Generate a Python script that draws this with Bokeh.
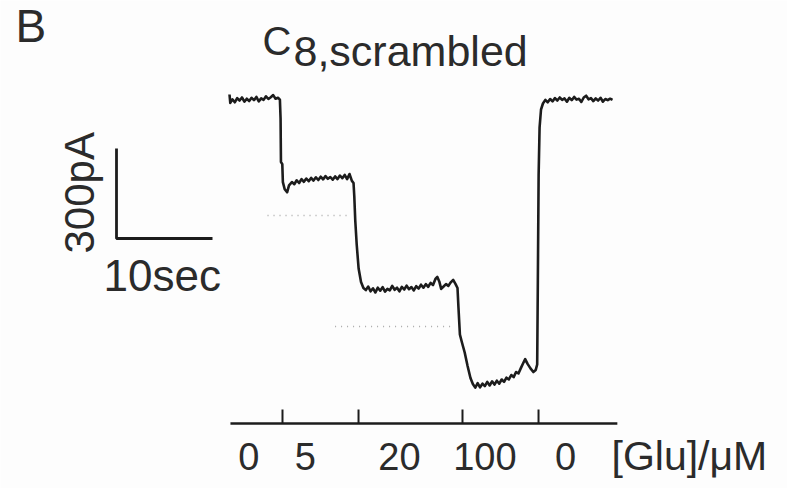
import math
from bokeh.plotting import figure
from bokeh.models import Range1d
from bokeh.core.properties import value
from bokeh.embed import file_html
from bokeh.resources import INLINE

# ---------------- data ----------------
# whole-cell current trace (time in s, current in pA)
trace_t = [0.00, 0.08, 0.30, 0.55, 0.80, 1.05, 1.30, 1.55, 1.80, 2.05, 2.30, 2.55, 2.80, 3.05,
           3.30, 3.55, 3.80, 4.05, 4.30, 4.55, 4.80, 5.05, 5.25,
           5.32, 5.36, 5.50, 5.56, 5.75, 6.00, 6.20, 6.50, 6.75, 7.00, 7.25, 7.50, 7.75, 8.00,
           8.25, 8.50, 8.75, 9.00, 9.25, 9.50, 9.75, 10.00, 10.25, 10.50, 10.75, 11.00, 11.25,
           11.50, 11.75, 12.00, 12.25, 12.50, 12.75, 12.92,
           13.00, 13.10, 13.25, 13.45, 13.70, 13.95, 14.20, 14.45, 14.70, 14.95, 15.20, 15.45,
           15.70, 15.95, 16.20, 16.45, 16.70, 16.95, 17.20, 17.45, 17.70, 17.95, 18.20, 18.45,
           18.70, 18.95, 19.20, 19.45, 19.70, 19.95, 20.20, 20.45, 20.70, 20.95, 21.20, 21.45,
           21.65, 21.85, 22.05, 22.30, 22.55, 22.80, 23.05, 23.30, 23.55, 23.75,
           23.85, 24.00, 24.20, 24.50, 24.80, 25.10, 25.35, 25.60, 25.85, 26.10, 26.35, 26.60,
           26.85, 27.10, 27.35, 27.60, 27.85, 28.10, 28.35, 28.60, 28.85, 29.10, 29.35, 29.60,
           29.85, 30.10, 30.35, 30.60, 30.80, 31.05, 31.35, 31.65, 31.90, 32.05,
           32.12, 32.20, 32.30, 32.45, 32.65, 32.90, 33.15, 33.40, 33.65, 33.90, 34.15, 34.40,
           34.65, 34.90, 35.15, 35.40, 35.65, 35.90, 36.15, 36.40, 36.65, 36.90, 37.15, 37.40,
           37.65, 37.90, 38.15, 38.40, 38.65, 38.90, 39.15, 39.40, 39.65, 39.90]
trace_pA = [20, -8, 4, -6, 8, 0, 10, -4, 6, -2, 9, 1, 12, -3,
            7, 2, 14, 5, 11, 18, 6, 9, 3,
            -60, -205, -212, -272, -296, -306, -283, -272, -279, -266, -275, -262, -271, -260,
            -269, -258, -267, -256, -265, -254, -263, -252, -261, -255, -264, -253, -262,
            -250, -259, -248, -262, -245, -268, -275,
            -320, -400, -480, -560, -605, -625, -632, -620, -636, -626, -640, -624,
            -634, -622, -637, -628, -633, -618, -631, -624, -636, -621, -630, -617,
            -629, -622, -633, -619, -627, -614, -624, -612, -621, -608, -615, -595,
            -588, -603, -628, -620, -612, -618, -606, -598, -612, -625,
            -690, -780, -805, -840, -885, -925, -945, -957, -942, -956, -944, -952,
            -938, -950, -936, -947, -934, -944, -930, -938, -924, -930, -915, -922,
            -905, -910, -892, -875, -862, -878, -893, -905, -898, -880,
            -600, -250, -90, -30, -10, 2, -6, 5, -3, 8, 0, 10,
            2, 7, -4, 9, 1, 12, 3, 6, -5, 10, 16, 4,
            8, -2, 7, 0, 9, -4, 5, 1, 6, 2]

# dotted reference levels (pA) and their extents (s)
ref_levels = [-383, -753]
ref_t0 = [3.96, 11.0]
ref_t1 = [12.6, 23.3]

# glutamate application protocol
conc_labels = ["0", "5", "20", "100", "0"]
switch_t = [5.52, 13.44, 24.27, 32.19]
protocol_t0, protocol_t1 = 0.1, 40.4
label_t = [2.0, 7.9, 17.7, 26.6, 35.0]
unit_label = "[Glu]/\u03bcM"

# scale bars
scale_pA = 300
scale_s = 10

# ---------------- layout (page calibration) ----------------
PX_PER_S = 9.6
PX_PER_PA = 0.3
X0_PX, Y0_PX = 229, 100          # page pixel where t=0, I=0 sits
W, H = 787, 488
BASE_SHIFT = 0.39                # renderer drops text this many em below anchor

def tx(px):
    return (px - X0_PX) / PX_PER_S

def iy(py):
    return -(py - Y0_PX) / PX_PER_PA

def base_y(py, fs):
    return iy(py - BASE_SHIFT * fs)

p = figure(width=W, height=H, output_backend="svg", toolbar_location=None,
           x_range=Range1d(tx(0), tx(W)), y_range=Range1d(iy(H), iy(0)),
           min_border=0)
p.axis.visible = False
p.grid.visible = False
p.outline_line_color = None
p.background_fill_color = "#fdfdfd"
p.border_fill_color = "#fdfdfd"

INK = "#1c1c1c"
TXT = "#2b2b2b"
FONT = value("Liberation Sans")

# dotted reference lines
for lev, a, b in zip(ref_levels, ref_t0, ref_t1):
    p.line([a, b], [lev, lev], line_color="#a8a8a8", line_width=1.5, line_dash="1 5")

# trace
p.line(trace_t, trace_pA, line_color=INK, line_width=2.6, line_join="round")

# protocol bar
bar_y = iy(423)
tick_h = 14 / PX_PER_PA
p.line([protocol_t0, protocol_t1], [bar_y, bar_y], line_color=INK, line_width=2.6)
p.segment(x0=switch_t, y0=[bar_y] * len(switch_t), x1=switch_t,
          y1=[bar_y + tick_h] * len(switch_t), line_color=INK, line_width=2)

FS_LAB = 38
p.text(x=label_t, y=[base_y(471, FS_LAB)] * len(label_t), text=conc_labels, text_font=FONT,
       text_font_size=value(f"{FS_LAB}px"), text_align="center", text_baseline="alphabetic",
       text_color=TXT)
FS_UNIT = 41
p.text(x=[tx(611)], y=[base_y(471, FS_UNIT)], text=[unit_label], text_font=FONT,
       text_font_size=value(f"{FS_UNIT}px"), text_align="left", text_baseline="alphabetic",
       text_color=TXT)

# scale bars
sb_t, sb_y = tx(116), iy(238)
p.line([sb_t, sb_t, sb_t + scale_s], [sb_y + scale_pA, sb_y, sb_y],
       line_color=INK, line_width=2.8)
FS_SB = 42
p.text(x=[tx(95 - BASE_SHIFT * FS_SB)], y=[iy(253)], text=[f"{scale_pA}pA"], angle=math.pi / 2,
       text_font=FONT, text_font_size=value(f"{FS_SB}px"), text_align="left",
       text_baseline="alphabetic", text_color=TXT)
FS_SEC = 44
p.text(x=[tx(103)], y=[base_y(292, FS_SEC)], text=[f"{scale_s}sec"], text_font=FONT,
       text_font_size=value(f"{FS_SEC}px"), text_align="left", text_baseline="alphabetic",
       text_color=TXT)

# panel letter and title
FS_B = 46
p.text(x=[tx(15)], y=[base_y(43, FS_B)], text=["B"], text_font=FONT,
       text_font_size=value(f"{FS_B}px"), text_align="left", text_baseline="alphabetic",
       text_color=TXT)
FS_C = 40
p.text(x=[tx(262)], y=[base_y(56, FS_C)], text=["C"], text_font=FONT,
       text_font_size=value(f"{FS_C}px"), text_align="left", text_baseline="alphabetic",
       text_color=TXT)
FS_SUB = 43
p.text(x=[tx(293)], y=[base_y(67, FS_SUB)], text=["8,scrambled"], text_font=FONT,
       text_font_size=value(f"{FS_SUB}px"), text_align="left", text_baseline="alphabetic",
       text_color=TXT)

open("out.html", "w").write(file_html(p, INLINE))
